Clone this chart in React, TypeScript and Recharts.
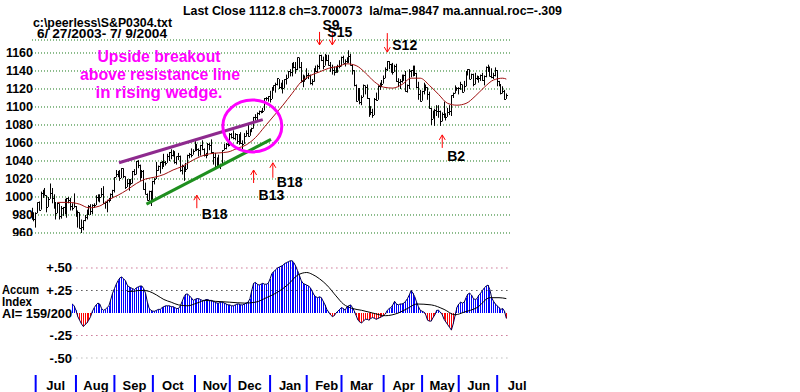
import React from "react";
import {
  Bar,
  CartesianGrid,
  ComposedChart,
  Line,
  ReferenceDot,
  ReferenceLine,
  XAxis,
  YAxis,
} from "recharts";

// daily bars, [high, low, close], one small array per month
const jun03 = [[988, 975, 976], [983, 973, 975]];
const jul03 = [
  [983, 966, 982], [994, 982, 994], [995, 985, 986], [1006, 986, 1004], [1008, 999, 1008], [1010, 1002, 1002],
  [1002, 983, 989], [1000, 989, 998], [1015, 998, 1004], [1010, 993, 999], [1003, 987, 994], [994, 975, 982],
  [994, 982, 993], [993, 975, 979], [990, 976, 988], [989, 979, 989], [998, 981, 982], [999, 977, 999],
  [1000, 993, 997], [999, 985, 990], [993, 985, 988], [1004, 988, 990],
];
const aug03 = [
  [990, 978, 980], [985, 966, 983], [983, 965, 966], [975, 960, 967], [974, 963, 974], [980, 973, 978],
  [986, 975, 981], [991, 980, 990], [992, 980, 984], [992, 981, 991], [993, 988, 991], [1002, 991, 1000],
  [1003, 995, 1002], [1003, 994, 1000], [1010, 1000, 1003], [1012, 992, 993], [995, 987, 994], [997, 983, 997],
  [999, 994, 997], [1004, 996, 1003], [1008, 999, 1008],
];
const sep03 = [
  [1022, 1005, 1022], [1030, 1022, 1026], [1029, 1022, 1028], [1030, 1018, 1021], [1032, 1021, 1032],
  [1032, 1021, 1023], [1023, 1009, 1011], [1020, 1011, 1016], [1020, 1007, 1019], [1020, 1013, 1015],
  [1029, 1015, 1029], [1031, 1024, 1026], [1040, 1025, 1040], [1041, 1032, 1036], [1036, 1018, 1023],
  [1030, 1021, 1029], [1030, 1008, 1009], [1016, 1003, 1003], [1004, 996, 997], [1007, 996, 1007], [1007, 990, 996],
];
const oct03 = [
  [1018, 996, 1018], [1021, 1014, 1020], [1039, 1020, 1030], [1035, 1029, 1034], [1039, 1026, 1039],
  [1040, 1031, 1034], [1048, 1034, 1039], [1040, 1035, 1038], [1048, 1038, 1045], [1050, 1040, 1050],
  [1053, 1042, 1047], [1052, 1045, 1050], [1051, 1037, 1039], [1045, 1036, 1045], [1049, 1041, 1046],
  [1046, 1028, 1030], [1036, 1025, 1034], [1034, 1018, 1029], [1038, 1029, 1031], [1047, 1031, 1047],
  [1049, 1043, 1048], [1054, 1044, 1047], [1053, 1047, 1051],
];
const nov03 = [
  [1062, 1051, 1059], [1059, 1051, 1053], [1054, 1045, 1052], [1058, 1046, 1058], [1063, 1052, 1053],
  [1054, 1045, 1047], [1049, 1043, 1047], [1060, 1047, 1059], [1060, 1052, 1058], [1064, 1048, 1050],
  [1050, 1036, 1044], [1049, 1033, 1034], [1044, 1034, 1042], [1047, 1033, 1034], [1037, 1031, 1035],
  [1052, 1035, 1052], [1059, 1052, 1054], [1060, 1053, 1059], [1060, 1056, 1058],
];
const dec03 = [
  [1071, 1058, 1070], [1071, 1065, 1067], [1074, 1064, 1065], [1071, 1063, 1070], [1070, 1059, 1062],
  [1070, 1058, 1069], [1072, 1059, 1060], [1063, 1053, 1059], [1071, 1059, 1068], [1074, 1067, 1071],
  [1082, 1067, 1068], [1075, 1068, 1075], [1077, 1072, 1077], [1089, 1076, 1089], [1092, 1085, 1089],
  [1094, 1085, 1093], [1096, 1091, 1096], [1096, 1093, 1094], [1099, 1094, 1096], [1110, 1096, 1110],
  [1111, 1107, 1110], [1112, 1106, 1112],
];
const jan04 = [
  [1118, 1105, 1109], [1122, 1109, 1122], [1124, 1118, 1124], [1127, 1116, 1126], [1132, 1124, 1132],
  [1131, 1120, 1122], [1127, 1120, 1127], [1130, 1115, 1121], [1131, 1121, 1131], [1136, 1125, 1132],
  [1140, 1132, 1140], [1142, 1134, 1139], [1149, 1134, 1148], [1150, 1143, 1144], [1150, 1137, 1142],
  [1155, 1141, 1155], [1155, 1143, 1144], [1150, 1127, 1129], [1136, 1122, 1134], [1135, 1128, 1131],
];
const feb04 = [
  [1143, 1131, 1135], [1138, 1131, 1136], [1136, 1125, 1127], [1131, 1124, 1129], [1143, 1128, 1143],
  [1146, 1139, 1140], [1147, 1138, 1146], [1158, 1142, 1158], [1158, 1151, 1152], [1156, 1142, 1146],
  [1159, 1146, 1157], [1158, 1151, 1152], [1158, 1146, 1147], [1150, 1139, 1144], [1147, 1136, 1141],
  [1145, 1135, 1139], [1145, 1138, 1144], [1147, 1138, 1145], [1152, 1143, 1145],
];
const mar04 = [
  [1156, 1145, 1156], [1157, 1149, 1149], [1153, 1145, 1151], [1155, 1149, 1155], [1163, 1149, 1157],
  [1159, 1146, 1147], [1147, 1136, 1141], [1141, 1123, 1124], [1125, 1106, 1107], [1121, 1107, 1121],
  [1121, 1103, 1105], [1113, 1102, 1111], [1125, 1111, 1124], [1124, 1114, 1122], [1125, 1109, 1110],
  [1110, 1089, 1095], [1101, 1091, 1094], [1098, 1088, 1091], [1110, 1091, 1109], [1116, 1107, 1108],
  [1124, 1108, 1123], [1127, 1119, 1127], [1130, 1122, 1126],
];
const apr04 = [
  [1135, 1126, 1132], [1144, 1132, 1142], [1151, 1140, 1151], [1151, 1142, 1148], [1148, 1138, 1141],
  [1149, 1136, 1139], [1147, 1139, 1145], [1148, 1128, 1129], [1132, 1122, 1128], [1131, 1120, 1129],
  [1136, 1127, 1135], [1136, 1129, 1136], [1140, 1117, 1118], [1125, 1116, 1124], [1142, 1120, 1140],
  [1141, 1133, 1141], [1146, 1134, 1136], [1146, 1135, 1138], [1138, 1121, 1122], [1128, 1108, 1114],
  [1119, 1106, 1107],
];
const may04 = [
  [1118, 1107, 1118], [1127, 1114, 1120], [1125, 1118, 1122], [1122, 1108, 1114], [1117, 1098, 1099],
  [1099, 1080, 1087], [1096, 1087, 1096], [1098, 1079, 1097], [1102, 1090, 1096], [1102, 1088, 1096],
  [1096, 1079, 1084], [1094, 1084, 1092], [1106, 1088, 1089], [1093, 1085, 1089], [1099, 1089, 1094],
  [1102, 1091, 1095], [1113, 1090, 1113], [1116, 1110, 1115], [1124, 1115, 1121], [1122, 1118, 1121],
];
const jun04 = [
  [1122, 1114, 1121], [1128, 1119, 1125], [1125, 1116, 1117], [1129, 1117, 1123], [1140, 1123, 1140],
  [1142, 1135, 1142], [1142, 1131, 1131], [1137, 1131, 1137], [1137, 1123, 1125], [1138, 1125, 1132],
  [1135, 1130, 1134], [1134, 1127, 1132], [1136, 1129, 1135], [1138, 1129, 1130], [1135, 1124, 1134],
  [1145, 1133, 1144], [1147, 1139, 1141], [1145, 1134, 1134], [1143, 1132, 1133], [1138, 1131, 1136],
  [1144, 1134, 1141],
];
const jul04 = [[1141, 1123, 1129], [1129, 1123, 1125], [1125, 1114, 1116], [1123, 1115, 1118], [1119, 1108, 1109], [1115, 1109, 1113]];

const monthBars = [jul03, aug03, sep03, oct03, nov03, dec03, jan04, feb04, mar04, apr04, may04, jun04, jul04];
const monthNames = ["Jul", "Aug", "Sep", "Oct", "Nov", "Dec", "Jan", "Feb", "Mar", "Apr", "May", "Jun", "Jul"];

// red moving average of the price, [trading day, value]
const maPoints = [
  [14, 994], [20, 994], [26, 992], [31, 988], [37, 990], [42, 997], [47, 1002], [52, 1008], [57, 1015],
  [62, 1020], [67, 1022], [72, 1025], [77, 1030], [82, 1034], [87, 1040], [92, 1045], [97, 1048],
  [102, 1049], [107, 1050], [112, 1054], [117, 1058], [122, 1066], [127, 1078], [132, 1090], [137, 1102],
  [142, 1115], [147, 1128], [152, 1135], [157, 1139], [162, 1143], [167, 1145], [172, 1148], [177, 1146],
  [182, 1138], [187, 1128], [192, 1122], [197, 1121], [202, 1125], [207, 1132], [212, 1132], [217, 1124],
  [222, 1114], [227, 1104], [232, 1102], [237, 1104], [242, 1112], [247, 1122], [252, 1130], [257, 1132],
  [259, 1131],
];

// accumulation index, daily from trading day 22
const AI_START = 22;
const aiValues = [
  0.1, 0.08, 0.03, -0.04, -0.08, -0.12, -0.15, -0.13, -0.11, -0.08,
  -0.04, 0.02, 0.06, 0.09, 0.11, 0.1, 0.05, 0.03, 0.04, 0.06,
  0.08, 0.15, 0.22, 0.27, 0.32, 0.36, 0.39, 0.4, 0.38, 0.36,
  0.31, 0.29, 0.28, 0.27, 0.26, 0.28, 0.29, 0.3, 0.3, 0.27,
  0.22, 0.12, 0.05, 0.03, 0.02, 0.02, 0.03, 0.04, 0.04, 0.06,
  0.07, 0.08, 0.08, 0.08, 0.07, 0.07, 0.06, 0.05, 0.05, 0.08,
  0.13, 0.18, 0.21, 0.21, 0.19, 0.17, 0.14, 0.15, 0.16, 0.16,
  0.15, 0.14, 0.14, 0.15, 0.15, 0.14, 0.14, 0.13, 0.12, 0.11,
  0.11, 0.12, 0.12, 0.11, 0.1, 0.09, 0.09, 0.08, 0.08, 0.09,
  0.1, 0.1, 0.09, 0.09, 0.1, 0.11, 0.12, 0.16, 0.25, 0.33,
  0.34, 0.32, 0.31, 0.32, 0.33, 0.32, 0.32, 0.33, 0.38, 0.44,
  0.46, 0.48, 0.5, 0.51, 0.52, 0.53, 0.55, 0.56, 0.57, 0.58,
  0.58, 0.56, 0.52, 0.47, 0.42, 0.36, 0.33, 0.32, 0.31, 0.3,
  0.28, 0.24, 0.2, 0.18, 0.17, 0.18, 0.17, 0.13, 0.09, 0.04,
  0.01, -0.02, -0.04, -0.03, 0.0, 0.02, 0.04, 0.06, 0.05, 0.03,
  0.07, 0.08, 0.09, 0.06, 0.02, -0.03, -0.08, -0.1, -0.11, -0.09,
  -0.07, -0.07, -0.08, -0.06, -0.05, -0.06, -0.07, -0.06, -0.05, -0.04,
  -0.03, -0.01, 0.03, 0.05, 0.06, 0.09, 0.13, 0.1, 0.09, 0.1,
  0.1, 0.11, 0.13, 0.16, 0.2, 0.25, 0.22, 0.18, 0.12, 0.07,
  0.03, 0.02, 0.01, -0.02, -0.08, -0.09, -0.09, -0.05, -0.02, 0.03,
  0.03, 0.01, -0.02, -0.07, -0.1, -0.13, -0.16, -0.19, -0.12, -0.03,
  0.06, 0.1, 0.12, 0.11, 0.12, 0.17, 0.21, 0.22, 0.2, 0.16,
  0.15, 0.16, 0.2, 0.22, 0.25, 0.28, 0.3, 0.31, 0.26, 0.17,
  0.13, 0.1, 0.08, 0.06, 0.04, 0.05, 0.02, -0.06,
];

// black average of the accumulation index, [trading day, value]
const aiMaPoints = [
  [52, 0.24], [55, 0.24], [58, 0.25], [61, 0.25], [64, 0.24], [68, 0.2], [72, 0.15], [76, 0.12], [80, 0.09],
  [85, 0.08], [90, 0.11], [95, 0.14], [100, 0.13], [108, 0.12], [116, 0.11], [122, 0.12], [128, 0.17],
  [134, 0.23], [140, 0.32], [145, 0.42], [150, 0.45], [153, 0.43], [157, 0.38], [161, 0.31], [166, 0.19],
  [170, 0.1], [175, 0.05], [180, 0.03], [186, 0.0], [193, -0.03], [200, 0.0], [205, 0.05], [210, 0.1],
  [218, 0.09], [225, 0.04], [231, -0.02], [236, 0.01], [243, 0.06], [250, 0.17], [255, 0.17], [259, 0.16],
];

const priceTicks = [960, 980, 1000, 1020, 1040, 1060, 1080, 1100, 1120, 1140, 1160];
const aiTicks = [-0.5, -0.25, 0.25, 0.5];
const aiTickLabels: Record<string, string> = { "-0.5": "-.50", "-0.25": "-.25", "0.25": "+.25", "0.5": "+.50" };

// peerless signals: label, trading day, price at the arrow tip
const signals = [
  { id: "S9", day: 157, price: 1169, dir: "down" },
  { id: "S15", day: 164, price: 1169, dir: "down" },
  { id: "S12", day: 194, price: 1161, dir: "down" },
  { id: "B18a", day: 90, price: 1002, dir: "up" },
  { id: "B13", day: 121, price: 1030, dir: "up" },
  { id: "B18b", day: 131.5, price: 1038, dir: "up" },
  { id: "B2", day: 224, price: 1069, dir: "up" },
];
const resistance = [{ x: 47.5, y: 1038 }, { x: 126, y: 1086 }];
const support = [{ x: 62.5, y: 992 }, { x: 130.5, y: 1064 }];
const breakout = { day: 120.3, price: 1079 };

const labelStyle: Record<string, { text: string; dx: number; dy: number; len: number }> = {
  S9: { text: "S9", dx: 3, dy: -15, len: 13 },
  S15: { text: "S15", dx: -5, dy: -8, len: 13 },
  S12: { text: "S12", dx: 5, dy: -2, len: 19 },
  B18a: { text: "B18", dx: 5, dy: 24, len: 13 },
  B13: { text: "B13", dx: 5, dy: 30, len: 13 },
  B18b: { text: "B18", dx: 4, dy: 24, len: 15 },
  B2: { text: "B2", dx: 5, dy: 26, len: 13 },
};

const FONT = "'Liberation Sans', Arial, sans-serif";
const X_DOMAIN = [0, 261];

const allBars = [...jun03, ...monthBars.flat()];
const monthStarts: number[] = [];
{
  let n = jun03.length;
  monthBars.forEach((m) => {
    monthStarts.push(n);
    n += m.length;
  });
}

type Row = { i: number; range: number[]; close: number; ma?: number; ai?: number; aiMa?: number };
const rows: Row[] = allBars.map(([h, l, c], i) => ({ i, range: [l, h], close: c }));
maPoints.forEach(([i, v]) => (rows[i].ma = v));
aiValues.forEach((v, k) => (rows[AI_START + k].ai = v));
aiMaPoints.forEach(([i, v]) => (rows[i].aiMa = v));

const OhlcBar = (props: any) => {
  const { x, y, width, height, payload } = props;
  if (!payload || height == null) return null;
  const [lo, hi] = payload.range;
  const top = Math.min(y, y + height);
  const bot = Math.max(y, y + height);
  const cx = Math.round(x + width / 2) + 0.5;
  const yc = Math.round(top + ((hi - payload.close) / (hi - lo || 1)) * (bot - top)) + 0.5;
  return (
    <g>
      <line x1={cx} x2={cx} y1={top} y2={bot} stroke="#000" strokeWidth={1} />
      <line x1={cx} x2={cx + 1.5} y1={yc} y2={yc} stroke="#000" strokeWidth={1} />
    </g>
  );
};

const AiBar = (props: any) => {
  const { x, y, width, height, payload } = props;
  if (!payload || payload.ai == null) return null;
  const top = Math.min(y, y + height);
  const h = Math.abs(height);
  return (
    <rect
      x={Math.round(x + width / 2)}
      y={top}
      width={1}
      height={h}
      fill={payload.ai < 0 ? "#ff0000" : "#0000ff"}
    />
  );
};

const PriceTick = ({ y, payload }: any) => (
  <text x={33} y={y} dy={4.5} textAnchor="end" fontFamily={FONT} fontWeight="bold" fontSize={12.5} fill="#000">
    {payload.value}
  </text>
);

const AiTick = ({ y, payload }: any) => (
  <text x={72} y={y} dy={4.5} textAnchor="end" fontFamily={FONT} fontWeight="bold" fontSize={13} fill="#000">
    {aiTickLabels[String(payload.value)]}
  </text>
);

const MonthTick = ({ x, y, index }: any) => (
  <g>
    <line x1={x} x2={x} y1={y + 7} y2={y + 24} stroke="#0000ff" strokeWidth={2} />
    <text x={x + 20} y={y + 22} textAnchor="middle" fontFamily={FONT} fontWeight="bold" fontSize={13} fill="#000">
      {monthNames[index]}
    </text>
  </g>
);

const SignalArrow = ({ cx, cy, sig }: any) => {
  const st = labelStyle[sig.id];
  const down = sig.dir === "down";
  const tail = down ? cy - st.len : cy + st.len;
  const head = down ? cy - 5 : cy + 5;
  return (
    <g>
      <line x1={cx} x2={cx} y1={tail} y2={cy} stroke="#ff0000" strokeWidth={1} />
      <polyline points={`${cx - 3},${head} ${cx},${cy} ${cx + 3},${head}`} fill="none" stroke="#ff0000" strokeWidth={1} />
      <text x={cx + st.dx} y={cy + st.dy} fontFamily={FONT} fontWeight="bold" fontSize={14} fill="#000">
        {st.text}
      </text>
    </g>
  );
};

const BreakoutRing = ({ cx, cy }: any) => (
  <ellipse cx={cx} cy={cy} rx={29.5} ry={26} fill="none" stroke="#ff00ff" strokeWidth={3} />
);

export default function App() {
  return (
    <div style={{ position: "absolute", left: 0, top: 0, width: 800, height: 392, background: "#fff", overflow: "hidden" }}>
      <div style={{ position: "absolute", left: 0, top: 0, width: 800, height: 236, overflow: "hidden" }}>
        <ComposedChart width={800} height={250} data={rows} margin={{ top: 40, right: 290, bottom: 10, left: 0 }}>
          <CartesianGrid vertical={false} stroke="#1a7a1a" strokeDasharray="1 2" />
          <XAxis type="number" dataKey="i" domain={X_DOMAIN} hide allowDataOverflow />
          <YAxis
            width={32}
            domain={[952.22, 1174.44]}
            ticks={priceTicks}
            allowDataOverflow
            axisLine={false}
            tickLine={false}
            tick={<PriceTick />}
            interval={0}
          />
          <Bar dataKey="range" barSize={1} shape={<OhlcBar />} isAnimationActive={false} />
          <Line dataKey="ma" type="monotone" stroke="#a01010" strokeWidth={1} dot={false} connectNulls isAnimationActive={false} />
          <ReferenceLine segment={resistance} stroke="#8e2a8e" strokeWidth={3} />
          <ReferenceLine segment={support} stroke="#1f8f1f" strokeWidth={3} />
          <ReferenceDot x={breakout.day} y={breakout.price} shape={(p: any) => <BreakoutRing {...p} />} />
          {signals.map((s) => (
            <ReferenceDot key={s.id} x={s.day} y={s.price} shape={(p: any) => <SignalArrow {...p} sig={s} />} />
          ))}
        </ComposedChart>
      </div>
      <div style={{ position: "absolute", left: 0, top: 240, width: 800, height: 152 }}>
        <ComposedChart width={800} height={152} data={rows} margin={{ top: 18, right: 290, bottom: 0, left: 0 }}>
          <XAxis
            type="number"
            dataKey="i"
            domain={X_DOMAIN}
            allowDataOverflow
            ticks={monthStarts}
            interval={0}
            height={24}
            axisLine={false}
            tickLine={false}
            tickSize={0}
            tickMargin={0}
            tick={<MonthTick />}
          />
          <YAxis
            width={32}
            domain={[-0.6111, 0.6111]}
            ticks={aiTicks}
            allowDataOverflow
            axisLine={false}
            tickLine={false}
            tick={<AiTick />}
            interval={0}
          />
          {aiTicks.map((t) => (
            <ReferenceLine
              key={t}
              segment={[{ x: 21.5, y: t }, { x: 261, y: t }]}
              stroke={t === 0.25 ? "#000" : t === -0.5 ? "#999" : "#b03060"}
              strokeDasharray="1 4"
            />
          ))}
          <Bar dataKey="ai" barSize={1} shape={<AiBar />} isAnimationActive={false} />
          <Line dataKey="ai" type="linear" stroke="#000050" strokeWidth={1} dot={false} isAnimationActive={false} />
          <Line dataKey="aiMa" type="monotone" stroke="#000" strokeWidth={1} dot={false} connectNulls isAnimationActive={false} />
        </ComposedChart>
      </div>
      <svg width={800} height={392} style={{ position: "absolute", left: 0, top: 0, pointerEvents: "none" }}>
        <g fontFamily={FONT} fontWeight="bold" fill="#000" fontSize={13}>
          <text x={183} y={15} textLength={379} lengthAdjust="spacingAndGlyphs" style={{ whiteSpace: "pre" }}>
            {"Last Close 1112.8 ch=3.700073  la/ma=.9847 ma.annual.roc=-.309"}
          </text>
        </g>
        <g fontFamily={FONT} fontWeight="bold" fill="#000" fontSize={12}>
          <text x={33} y={27} textLength={139} lengthAdjust="spacingAndGlyphs">{"c:\\peerless\\S&P0304.txt"}</text>
          <text x={37} y={37.5} textLength={130} lengthAdjust="spacingAndGlyphs" style={{ whiteSpace: "pre" }}>
            {"6/ 27/2003- 7/ 9/2004"}
          </text>
          <text x={2} y={293.5} textLength={37} lengthAdjust="spacingAndGlyphs">Accum</text>
          <text x={2} y={305.5} textLength={30} lengthAdjust="spacingAndGlyphs">Index</text>
          <text x={2} y={317.5} textLength={70} lengthAdjust="spacingAndGlyphs">AI= 159/200</text>
        </g>
        <g fontFamily={FONT} fontWeight="bold" fill="#ff00ff" fontSize={16} textAnchor="middle">
          <text x={159} y={61.5} textLength={123} lengthAdjust="spacingAndGlyphs">Upside breakout</text>
          <text x={160} y={79.5} textLength={160} lengthAdjust="spacingAndGlyphs">above resistance line</text>
          <text x={159} y={97.5} textLength={127} lengthAdjust="spacingAndGlyphs">in rising wedge.</text>
        </g>
      </svg>
    </div>
  );
}
